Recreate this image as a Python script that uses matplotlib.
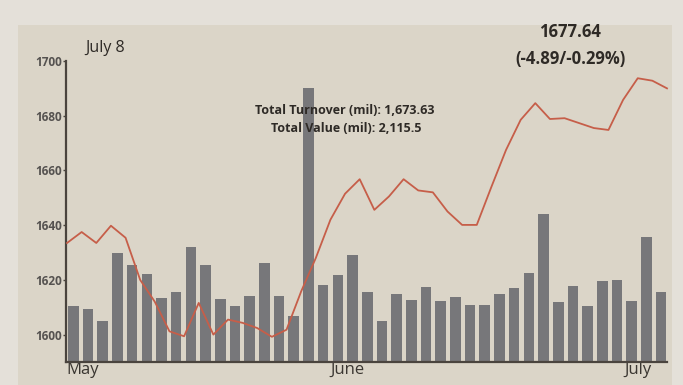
import matplotlib
matplotlib.use("Agg")
import matplotlib.pyplot as plt
import numpy as np
from matplotlib.patches import Rectangle

# ---- data ----
# daily turnover bars, drawn on the index scale (bar top value)
bar_tops = [1610.6, 1609.4, 1604.9, 1629.8, 1625.5, 1622.3, 1613.4, 1615.7, 1632.2, 1625.5,
            1613.0, 1610.3, 1614.2, 1626.2, 1614.0, 1606.9, 1690.0, 1618.2, 1621.9, 1629.2,
            1615.4, 1604.9, 1615.0, 1612.8, 1617.3, 1612.2, 1613.8, 1610.7, 1610.7, 1615.0,
            1617.0, 1622.7, 1644.0, 1611.8, 1617.6, 1610.6, 1619.5, 1620.1, 1612.2, 1635.5,
            1615.6]
# index line
index_vals = [1633.5, 1637.5, 1633.5, 1639.8, 1635.4, 1620.0, 1612.0, 1601.2, 1599.4, 1611.6,
              1600.0, 1605.5, 1604.3, 1602.4, 1599.2, 1601.8, 1615.8, 1628.0, 1642.0, 1651.5,
              1656.8, 1645.6, 1650.5, 1656.8, 1652.7, 1652.0, 1645.0, 1640.1, 1640.1, 1654.0,
              1667.5, 1678.5, 1684.6, 1678.8, 1679.1, 1677.3, 1675.5, 1674.8, 1685.8, 1693.7,
              1692.8, 1690.0]
month_labels = ["May", "June", "July"]
month_pos = [0, 18, 38]          # bar index where each month starts
yticks = [1600, 1620, 1640, 1660, 1680, 1700]
date_label = "July 8"
close_label = "1677.64"
change_label = "(-4.89/-0.29%)"
turnover_label = "Total Turnover (mil): 1,673.63"
value_label = "Total Value (mil): 2,115.5"
y_base = 1590

# ---- styling ----
W, H = 683, 385
fig = plt.figure(figsize=(W / 100, H / 100), dpi=100, facecolor="#e4e0d9")
# panel
fig.patches.append(Rectangle((18 / W, 0), (672 - 18) / W, 1 - 25 / H,
                             transform=fig.transFigure, facecolor="#dbd5c8",
                             edgecolor="none", zorder=-10))

ax = fig.add_axes([66 / W, 1 - 362 / H, (667 - 66) / W, (362 - 61) / H])
ax.set_facecolor("none")
ax.set_zorder(1)

n = len(bar_tops)
x = np.arange(n)
ax.set_xlim(-0.43, n - 0.6)
ax.set_ylim(y_base, 1700)

ax.bar(x, np.array(bar_tops) - y_base, bottom=y_base, width=0.72,
       color="#77777a", zorder=2)
xl = ax.get_xlim()
lx = np.linspace(xl[0], xl[1], len(index_vals))
ax.plot(lx, index_vals, color="#c65e49", lw=1.3, zorder=3, clip_on=False)

for s in ["top", "right"]:
    ax.spines[s].set_visible(False)
for s in ["left", "bottom"]:
    ax.spines[s].set_color("#4a443e")
    ax.spines[s].set_linewidth(1.6)

ax.set_yticks(yticks)
ax.set_yticklabels([str(v) for v in yticks], fontsize=8.5, color="#555250",
                   fontweight="bold", family=["Open Sans", "DejaVu Sans"])
ax.tick_params(axis="y", length=2, width=1, color="#4a443e", pad=1)

ax.set_xticks([p - 0.5 for p in month_pos])
ax.set_xticklabels(month_labels, fontsize=12, color="#3a3631", ha="left",
                   family=["Open Sans", "DejaVu Sans"])
ax.tick_params(axis="x", length=0, pad=0)

fig.text(85 / W, 1 - 48 / H, date_label, fontsize=11.5, color="#2e2a26",
         va="center", ha="left", family=["Open Sans", "DejaVu Sans"])
fig.text(570 / W, 1 - 32 / H, close_label, fontsize=12, color="#2e2a26",
         fontweight="bold", va="center", ha="center", family=["Open Sans", "DejaVu Sans"])
fig.text(570 / W, 1 - 59 / H, change_label, fontsize=12, color="#2e2a26",
         fontweight="bold", va="center", ha="center", family=["Open Sans", "DejaVu Sans"])
fig.text(345 / W, 1 - 110 / H, turnover_label, fontsize=9, color="#2e2a26",
         fontweight="bold", va="center", ha="center",
         family=["Open Sans", "DejaVu Sans"], zorder=5)
fig.text(346 / W, 1 - 128 / H, value_label, fontsize=9, color="#2e2a26",
         fontweight="bold", va="center", ha="center",
         family=["Open Sans", "DejaVu Sans"], zorder=5)

fig.savefig("out.png", dpi=100, facecolor=fig.get_facecolor())
